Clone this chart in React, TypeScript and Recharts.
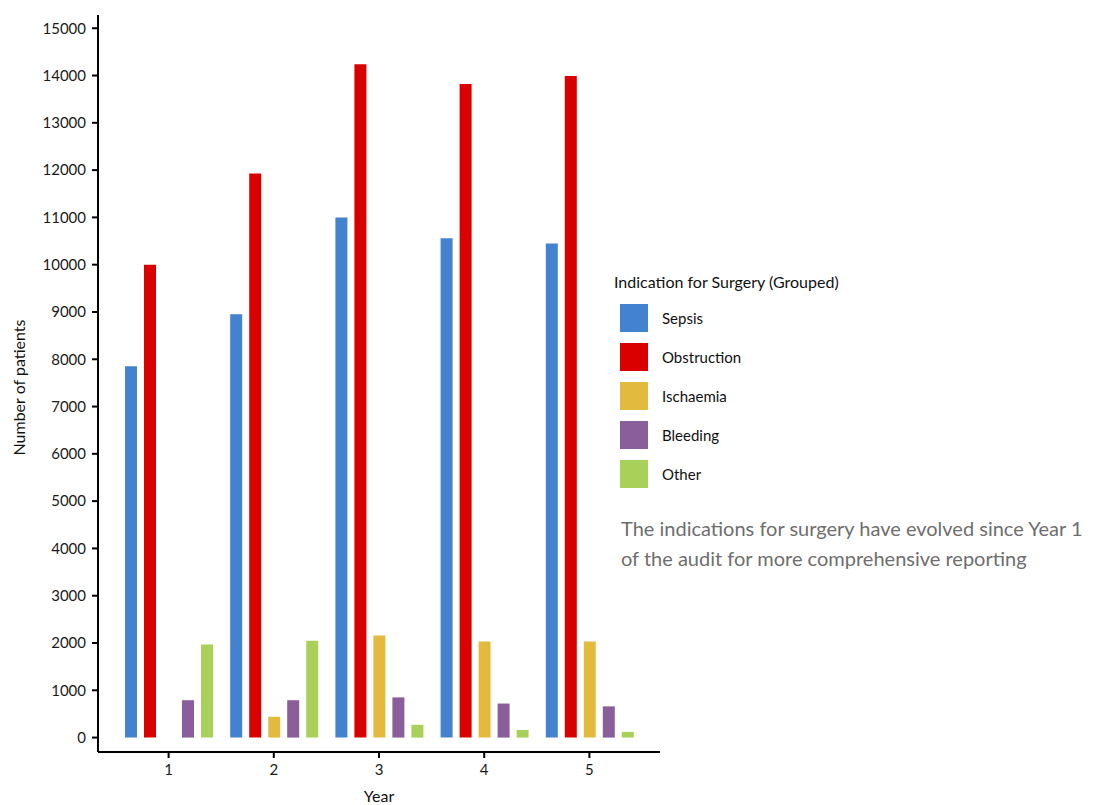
import { BarChart, Bar, XAxis, YAxis } from 'recharts'

const years = ['1', '2', '3', '4', '5']
const sepsis = [7850, 8950, 11000, 10560, 10450]
const obstruction = [10000, 11930, 14240, 13820, 13990]
const ischaemia = [0, 440, 2160, 2030, 2030]
const bleeding = [790, 790, 850, 720, 660]
const other = [1970, 2050, 270, 160, 120]

const yTicks = [0, 1000, 2000, 3000, 4000, 5000, 6000, 7000, 8000, 9000, 10000, 11000, 12000, 13000, 14000, 15000]

const series = [
  { key: 'Sepsis', color: '#4282ce' },
  { key: 'Obstruction', color: '#da0000' },
  { key: 'Ischaemia', color: '#e2bb3e' },
  { key: 'Bleeding', color: '#8a5d9b' },
  { key: 'Other', color: '#a9d15a' },
]

const data = years.map((y, i) => ({
  year: y,
  Sepsis: sepsis[i],
  Obstruction: obstruction[i],
  Ischaemia: ischaemia[i],
  Bleeding: bleeding[i],
  Other: other[i],
}))

const font = 'Lato, "Noto Sans", sans-serif'

function LegendBox() {
  return (
    <div style={{ position: 'absolute', left: 614, top: 272, fontFamily: font, color: '#111' }}>
      <div style={{ fontSize: 16, height: 26 }}>Indication for Surgery (Grouped)</div>
      {series.map(s => (
        <div key={s.key} style={{ display: 'flex', alignItems: 'center', height: 39 }}>
          <div style={{ width: 28, height: 28, background: s.color, marginLeft: 6, marginRight: 14 }} />
          <span style={{ fontSize: 15 }}>{s.key}</span>
        </div>
      ))}
    </div>
  )
}

export default function App() {
  return (
    <div style={{ position: 'absolute', left: 0, top: 0, width: 1117, height: 805, background: '#fff', overflow: 'hidden' }}>
      <BarChart
        width={1117}
        height={805}
        data={data}
        margin={{ top: 15, right: 457, bottom: 0, left: 0 }}
        barSize={12}
        barGap={7}
      >
        <XAxis
          dataKey="year"
          height={53}
          padding={{ left: 18, right: 18 }}
          stroke="#000"
          strokeWidth={2}
          tickLine={{ stroke: '#000', strokeWidth: 2 }}
          tickSize={6}
          tickMargin={6}
          tick={{ fill: '#1a1a1a', fontSize: 15, fontFamily: font }}
          label={{ value: 'Year', position: 'insideBottom', offset: 0, fill: '#111', fontSize: 16, fontFamily: font, dy: -3 }}
        />
        <YAxis
          width={98}
          domain={[-305, 15280]}
          ticks={yTicks}
          allowDataOverflow
          stroke="#000"
          strokeWidth={2}
          tickLine={{ stroke: '#000', strokeWidth: 2 }}
          tickSize={6}
          tickMargin={6}
          tick={{ fill: '#1a1a1a', fontSize: 15, fontFamily: font }}
          label={{ value: 'Number of patients', angle: -90, position: 'insideLeft', offset: 19, dy: 4, fill: '#111', fontSize: 16, fontFamily: font, style: { textAnchor: 'middle' } }}
        />
        {series.map(s => (
          <Bar key={s.key} dataKey={s.key} fill={s.color} isAnimationActive={false} />
        ))}
      </BarChart>
      <LegendBox />
      <div
        style={{
          position: 'absolute',
          left: 621,
          top: 513,
          fontFamily: font,
          fontSize: 20,
          lineHeight: '30px',
          color: '#6e6e6e',
          whiteSpace: 'nowrap',
        }}
      >
        The indications for surgery have evolved since Year 1
        <br />
        of the audit for more comprehensive reporting
      </div>
    </div>
  )
}
